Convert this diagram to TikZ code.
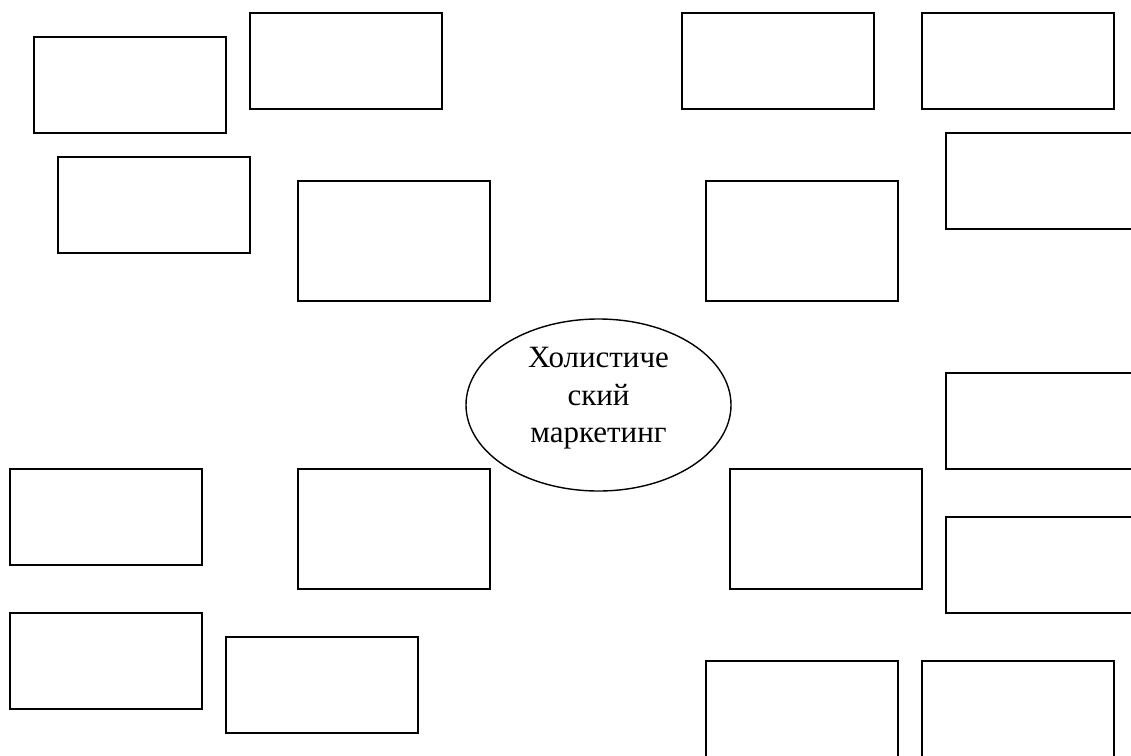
\documentclass[tikz,border=0pt]{standalone}
\usepackage{fontspec}
\setmainfont{Liberation Serif}
\usetikzlibrary{shapes.geometric}
\tikzset{
  bx/.style={draw=black, line width=1.6pt, anchor=north west, inner sep=0pt, outer sep=0pt,
    minimum width=192pt, minimum height=96pt},
  tall/.style={minimum height=120pt},
  ell/.style={draw=black, line width=1.4pt, ellipse, inner sep=0pt,
    minimum width=265pt, minimum height=172pt},
  lbl/.style={align=center, inner sep=0pt, font=\fontsize{31}{37.5}\selectfont}
}
\begin{document}
\begin{tikzpicture}[x=1pt,y=-1pt]
\clip (0,0) rectangle (1131,755);
\fill[white] (0,0) rectangle (1131,755);
% left upper group
\node[bx] (b1) at (34,37) {};
\node[bx] (b2) at (250,13) {};
\node[bx] (b3) at (58,157) {};
\node[bx,tall] (b4) at (298,181) {};
% right upper group
\node[bx] (b5) at (682,13) {};
\node[bx] (b6) at (922,13) {};
\node[bx, minimum width=200pt] (b7) at (946,133) {};
\node[bx,tall] (b8) at (706,181) {};
% centre
\node[ell] (c) at (598.5,405) {};
\node[lbl] (ct) at ([yshift=6.5pt]c.center) {Холистиче\\ский\\маркетинг};
% right lower group
\node[bx, minimum width=200pt] (b9) at (946,373) {};
\node[bx, minimum width=200pt] (b10) at (946,517) {};
\node[bx,tall] (b11) at (730,469) {};
\node[bx,tall] (b12) at (706,661) {};
\node[bx,tall] (b13) at (922,661) {};
% left lower group
\node[bx] (b14) at (10,469) {};
\node[bx,tall] (b15) at (298,469) {};
\node[bx] (b16) at (10,613) {};
\node[bx] (b17) at (226,637) {};
\end{tikzpicture}
\end{document}
